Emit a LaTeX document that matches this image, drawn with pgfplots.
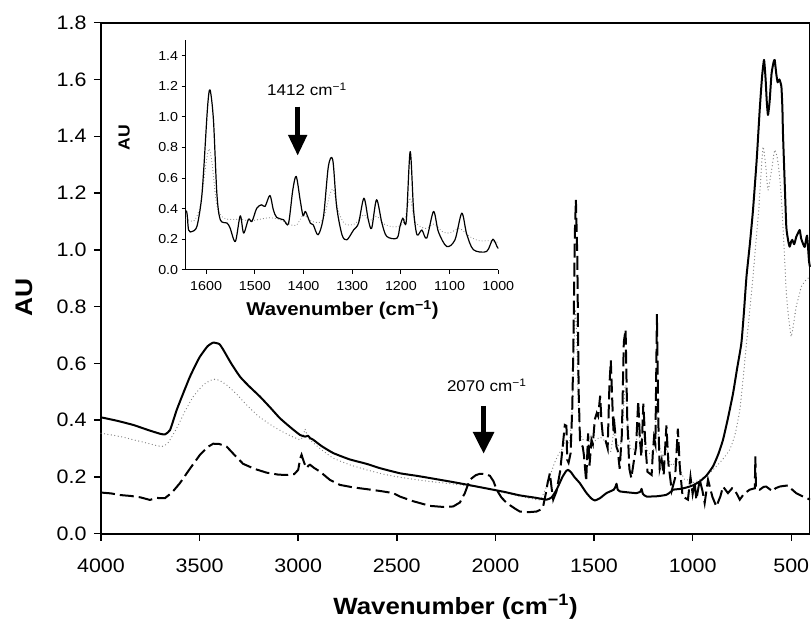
\documentclass[border=0pt]{standalone}
\usepackage{fontspec}
\setmainfont{Liberation Sans}[FakeStretch=1.1]
\usepackage{pgfplots}
\usepackage{pgfplotstable}
\pgfplotsset{compat=1.18}
\usetikzlibrary{arrows.meta}

% spectrum drawn solid in the main plot
\pgfplotstableread{
wn val
4000 0.410
3920 0.398
3836 0.383
3760 0.365
3700 0.352
3676 0.350
3650 0.365
3616 0.436
3580 0.500
3549 0.553
3520 0.595
3498 0.624
3460 0.660
3431 0.673
3400 0.668
3380 0.648
3340 0.600
3295 0.553
3250 0.520
3194 0.483
3140 0.443
3093 0.407
3040 0.375
2991 0.348
2965 0.342
2950 0.345
2940 0.337
2924 0.331
2880 0.308
2822 0.284
2740 0.262
2653 0.246
2586 0.231
2485 0.213
2400 0.204
2332 0.196
2200 0.180
2079 0.164
1960 0.148
1876 0.135
1800 0.127
1741 0.120
1715 0.128
1690 0.155
1660 0.200
1640 0.222
1631 0.225
1615 0.215
1600 0.200
1572 0.178
1540 0.145
1515 0.125
1496 0.117
1470 0.125
1437 0.143
1400 0.155
1390 0.168
1386 0.176
1380 0.155
1369 0.149
1320 0.145
1285 0.143
1265 0.148
1259 0.158
1252 0.140
1234 0.131
1180 0.132
1133 0.137
1110 0.148
1099 0.155
1060 0.158
1030 0.163
1000 0.170
964 0.184
930 0.205
897 0.237
870 0.280
846 0.331
820 0.410
795 0.495
775 0.580
753 0.671
740 0.780
727 0.906
710 1.020
694 1.140
675 1.320
660 1.493
648 1.610
638 1.669
630 1.600
624 1.520
618 1.475
610 1.520
600 1.620
590 1.660
584 1.669
576 1.620
569 1.590
560 1.600
550 1.575
545 1.500
542 1.410
534 1.250
525 1.080
515 1.030
508 1.011
500 1.030
495 1.035
485 1.020
475 1.045
465 1.060
457 1.070
450 1.040
445 1.030
432 1.010
420 1.050
410 0.960
405 0.940
}\solidA

% dashed in the main plot, solid in the inset
\pgfplotstableread{
wn val
4000 0.145
3950 0.142
3900 0.136
3850 0.133
3800 0.128
3752 0.119
3720 0.126
3676 0.125
3640 0.145
3600 0.178
3550 0.228
3498 0.278
3460 0.305
3431 0.317
3400 0.316
3363 0.307
3320 0.275
3279 0.246
3220 0.228
3160 0.215
3100 0.208
3059 0.207
3020 0.210
3000 0.225
2990 0.265
2983 0.278
2970 0.250
2957 0.231
2948 0.240
2940 0.243
2920 0.232
2890 0.219
2840 0.190
2789 0.172
2720 0.163
2653 0.157
2580 0.150
2518 0.143
2485 0.131
2420 0.115
2332 0.098
2260 0.094
2214 0.096
2180 0.110
2155 0.143
2130 0.190
2100 0.206
2079 0.211
2050 0.210
2028 0.204
2010 0.185
1994 0.155
1970 0.128
1943 0.108
1900 0.088
1876 0.078
1830 0.076
1792 0.078
1770 0.085
1758 0.096
1745 0.140
1735 0.180
1724 0.213
1715 0.160
1707 0.120
1690 0.150
1672 0.220
1660 0.300
1648 0.383
1640 0.380
1636 0.260
1629 0.250
1619 0.283
1610 0.450
1605 0.654
1597 1.067
1592 1.176
1585 0.980
1578 0.500
1571 0.327
1557 0.305
1551 0.275
1540 0.185
1530 0.353
1523 0.240
1513 0.331
1506 0.316
1496 0.403
1486 0.425
1479 0.414
1469 0.486
1462 0.392
1455 0.342
1441 0.327
1431 0.301
1422 0.523
1415 0.610
1407 0.458
1401 0.353
1396 0.381
1386 0.305
1380 0.294
1370 0.229
1359 0.348
1349 0.675
1340 0.719
1332 0.414
1321 0.229
1311 0.196
1297 0.261
1287 0.305
1276 0.468
1267 0.327
1260 0.272
1250 0.458
1239 0.305
1229 0.218
1208 0.207
1202 0.283
1196 0.338
1189 0.316
1181 0.773
1174 0.392
1167 0.229
1157 0.260
1147 0.207
1133 0.381
1123 0.248
1106 0.152
1089 0.196
1075 0.370
1065 0.235
1051 0.131
1024 0.120
1011 0.200
1000 0.140
990 0.180
981 0.120
964 0.190
950 0.150
939 0.108
922 0.190
900 0.130
880 0.096
860 0.130
846 0.166
821 0.143
800 0.160
787 0.155
761 0.120
740 0.140
711 0.155
685 0.160
682 0.272
679 0.160
660 0.155
640 0.165
627 0.166
594 0.149
580 0.160
559 0.166
540 0.168
517 0.170
495 0.155
475 0.143
441 0.131
420 0.125
405 0.120
}\dashedB

% dotted grey spectrum
\pgfplotstableread{
wn val
4000 0.354
3900 0.342
3836 0.331
3760 0.318
3692 0.307
3660 0.320
3616 0.372
3575 0.430
3532 0.483
3480 0.525
3431 0.544
3400 0.540
3363 0.524
3310 0.490
3262 0.454
3200 0.413
3127 0.378
3060 0.352
2991 0.331
2975 0.345
2965 0.369
2955 0.345
2940 0.330
2880 0.295
2822 0.266
2740 0.243
2653 0.225
2570 0.210
2485 0.199
2400 0.190
2332 0.184
2200 0.174
2079 0.164
2000 0.152
1910 0.137
1840 0.127
1775 0.119
1760 0.135
1741 0.166
1720 0.210
1700 0.250
1680 0.280
1660 0.300
1642 0.330
1625 0.320
1612 0.420
1600 0.700
1594 0.790
1588 0.700
1578 0.420
1565 0.340
1550 0.330
1530 0.330
1510 0.320
1490 0.330
1470 0.340
1450 0.330
1430 0.300
1415 0.290
1400 0.360
1390 0.330
1375 0.310
1360 0.330
1345 0.500
1338 0.520
1328 0.380
1315 0.300
1295 0.300
1276 0.360
1265 0.320
1250 0.350
1235 0.300
1215 0.280
1200 0.290
1192 0.330
1181 0.470
1172 0.320
1150 0.270
1132 0.300
1115 0.250
1100 0.240
1080 0.270
1060 0.220
1040 0.190
1020 0.190
1000 0.180
964 0.190
930 0.205
897 0.225
850 0.260
812 0.296
785 0.350
761 0.436
745 0.540
727 0.671
710 0.790
694 0.906
680 1.020
665 1.140
655 1.250
643 1.363
630 1.300
618 1.210
600 1.280
584 1.352
570 1.320
559 1.258
550 1.180
542 1.082
533 0.960
525 0.847
515 0.770
508 0.730
500 0.694
488 0.740
475 0.800
460 0.840
449 0.870
430 0.890
405 0.906
}\dottedC

\pgfplotsset{
  /pgf/number format/assume math mode=true,
  solidstyle/.style={black, line width=2pt, line join=round, smooth, tension=0.3},
  dashstyle/.style={black, line width=2pt, dash pattern=on 14pt off 5pt},
  dotstyle/.style={gray, line width=1.3pt, line cap=round, dash pattern=on 0pt off 3.5pt, smooth, tension=0.3},
}

\begin{document}
\begin{tikzpicture}
\begin{axis}[
    name=main, at={(0,0)}, anchor=south west,
    scale only axis, width=709pt, height=511pt,
    x dir=reverse, xmin=405, xmax=4000, ymin=0, ymax=1.8,
    axis lines=left, axis line style={-, line width=2pt},
    xtick={500,1000,1500,2000,2500,3000,3500,4000},
    ytick={0,0.2,0.4,0.6,0.8,1.0,1.2,1.4,1.6,1.8},
    tick align=outside, major tick length=7pt,
    tick style={line width=1.5pt, black},
    xticklabel style={font=\fontsize{19.5}{22}\selectfont, yshift=-15pt,
      /pgf/number format/1000 sep={}},
    yticklabel style={font=\fontsize{19.5}{22}\selectfont, xshift=-4pt,
      /pgf/number format/.cd, fixed, fixed zerofill, precision=1},
    xlabel={Wavenumber (cm\textsuperscript{−1})},
    xlabel style={font=\fontsize{23.5}{26}\selectfont\bfseries,
      at={(axis description cs:0.5,-0.1429)}, anchor=center},
    ylabel={AU},
    ylabel style={font=\fontsize{24}{26}\selectfont\bfseries,
      at={(axis description cs:-0.1086,0.462)}, anchor=center},
    clip=false,
  ]
  \addplot[dotstyle] table[x=wn, y=val] {\dottedC};
  \addplot[dashstyle] table[x=wn, y=val] {\dashedB};
  \addplot[solidstyle] table[x=wn, y=val] {\solidA};
  \draw[line width=2pt] (axis description cs:0,1) -- (axis description cs:1,1);
  \draw[line width=1pt] (axis description cs:1,0) -- (axis description cs:1,1);
  \node[font=\fontsize{15.5}{18}\selectfont] at (axis cs:2044,0.522) {2070 cm\textsuperscript{−1}};
  \draw[line width=5.5pt, -{Triangle[width=20pt,length=22pt]}]
    (axis cs:2060,0.450) -- (axis cs:2060,0.281);
\end{axis}

\begin{axis}[
    at={(84.7pt,263.9pt)}, anchor=south west,
    scale only axis, width=312.6pt, height=229.5pt,
    x dir=reverse, xmin=1000, xmax=1642, ymin=0, ymax=1.5,
    axis lines=left, axis line style={-, line width=0.9pt},
    xtick={1000,1100,1200,1300,1400,1500,1600},
    ytick={0,0.2,0.4,0.6,0.8,1.0,1.2,1.4},
    tick align=outside, major tick length=4pt,
    tick style={line width=0.9pt, black},
    xticklabel style={font=\fontsize{13}{15}\selectfont, yshift=-4pt,
      /pgf/number format/1000 sep={}},
    yticklabel style={font=\fontsize{13}{15}\selectfont,
      /pgf/number format/.cd, fixed, fixed zerofill, precision=1},
    xlabel={Wavenumber (cm\textsuperscript{−1})},
    xlabel style={font=\fontsize{18.5}{21}\selectfont\bfseries,
      at={(axis description cs:0.5016,-0.174)}, anchor=center},
    ylabel={AU},
    ylabel style={font=\fontsize{16}{18}\selectfont\bfseries,
      at={(axis description cs:-0.197,0.577)}, anchor=center},
    clip=true,
  ]
  \addplot[gray, line width=1.1pt, line cap=round, dash pattern=on 0pt off 3pt,
    smooth, tension=0.5] table[x=wn, y=val] {\dottedC};
  \addplot[black, line width=1.2pt, line join=round, smooth, tension=0.5]
    table[x=wn, y=val] {\dashedB};
  \node[font=\fontsize{15.5}{18}\selectfont] at (axis cs:1393,1.181) {1412 cm\textsuperscript{−1}};
  \draw[line width=5pt, -{Triangle[width=18pt,length=21pt]}]
    (axis cs:1412,1.067) -- (axis cs:1412,0.745);
\end{axis}
\pgfresetboundingbox
\path[use as bounding box] (-101pt,-88pt) rectangle (710pt,533.7pt);
\end{tikzpicture}
\end{document}
